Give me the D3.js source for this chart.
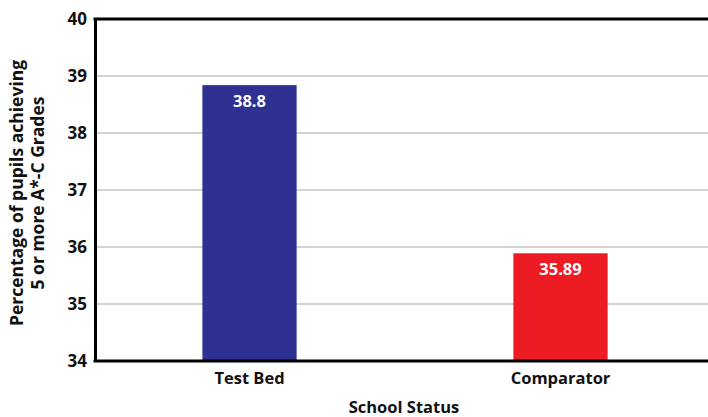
<!DOCTYPE html>
<html>
<head>
<meta charset="utf-8">
<script src="https://cdn.jsdelivr.net/npm/d3@7"></script>
<style>
  body { margin: 0; background: #fff; }
  text { font-family: "Open Sans", "Noto Sans", sans-serif; font-weight: bold; }
</style>
</head>
<body>
<div id="viz"></div>
<script>
"use strict";

const w = 708;
const h = 417;

// data
const categories = ["Test Bed", "Comparator"];
const values = [38.84, 35.89];
const valueLabels = ["38.8", "35.89"];
const barColors = ["#2E3192", "#ED1C24"];
const yTicks = [34, 35, 36, 37, 38, 39, 40];
const yTitle = ["Percentage of pupils achieving", "5 or more A*-C Grades"];
const xTitle = "School Status";

const mLeft = 95, mRight = 716, mTop = 19, mBottom = 361;

const svg = d3.select("#viz")
  .append("svg")
  .attr("width", w)
  .attr("height", h)

const x = d3.scaleBand()
  .domain(categories)
  .range([mLeft - 1, mRight])
  .paddingInner(0.697)
  .paddingOuter(0.3485)

const y = d3.scaleLinear()
  .domain([34, 40])
  .range([mBottom, mTop])

// gridlines
svg.append("g")
  .selectAll("line")
  .data(yTicks.filter(d => d > 34 && d < 40))
  .join("line")
  .attr("x1", mLeft)
  .attr("x2", w)
  .attr("y1", d => y(d))
  .attr("y2", d => y(d))
  .attr("stroke", "#c4c4c4")
  .attr("stroke-width", 1.5)

// bars
svg.append("g")
  .selectAll("rect")
  .data(values)
  .join("rect")
  .attr("x", (d, i) => x(categories[i]))
  .attr("width", x.bandwidth())
  .attr("y", d => y(d))
  .attr("height", d => mBottom - y(d))
  .attr("fill", (d, i) => barColors[i])

svg.append("g")
  .selectAll("text")
  .data(values)
  .join("text")
  .attr("x", (d, i) => x(categories[i]) + x.bandwidth() / 2)
  .attr("y", d => y(d) + 22)
  .attr("text-anchor", "middle")
  .attr("fill", "#fff")
  .attr("font-size", 16.5)
  .text((d, i) => valueLabels[i])

// top line at 40
svg.append("line")
  .attr("x1", mLeft - 1.5)
  .attr("x2", w)
  .attr("y1", y(40))
  .attr("y2", y(40))
  .attr("stroke", "#000")
  .attr("stroke-width", 3)

// y axis
const yAxis = svg.append("g")
  .attr("transform", `translate(${mLeft},0)`)
  .call(d3.axisLeft(y).tickValues(yTicks).tickSize(0).tickPadding(8).tickFormat(d3.format("d")))
yAxis.select(".domain").attr("stroke", "#000").attr("stroke-width", 3)
yAxis.selectAll("text")
  .attr("font-size", 17)
  .attr("fill", "#111")
  .attr("font-family", "'Open Sans', sans-serif")

// x axis
const xAxis = svg.append("g")
  .attr("transform", `translate(0,${mBottom})`)
  .call(d3.axisBottom(x).tickSize(0).tickPadding(11))
xAxis.select(".domain").remove()
xAxis.append("line")
  .attr("x1", mLeft - 1.5)
  .attr("x2", w)
  .attr("stroke", "#000")
  .attr("stroke-width", 3)
xAxis.selectAll("text")
  .attr("font-size", 16.5)
  .attr("fill", "#111")
  .attr("font-family", "'Open Sans', sans-serif")

// titles
svg.append("text")
  .attr("x", 404)
  .attr("y", 413)
  .attr("text-anchor", "middle")
  .attr("font-size", 16.5)
  .attr("fill", "#111")
  .text(xTitle)

svg.append("text")
  .attr("transform", "translate(23,193) rotate(-90)")
  .attr("text-anchor", "middle")
  .attr("font-size", 17.5)
  .attr("fill", "#111")
  .selectAll("tspan")
  .data(yTitle)
  .join("tspan")
  .attr("x", 0)
  .attr("dy", (d, i) => i === 0 ? 0 : 21)
  .text(d => d)
</script>
</body>
</html>
